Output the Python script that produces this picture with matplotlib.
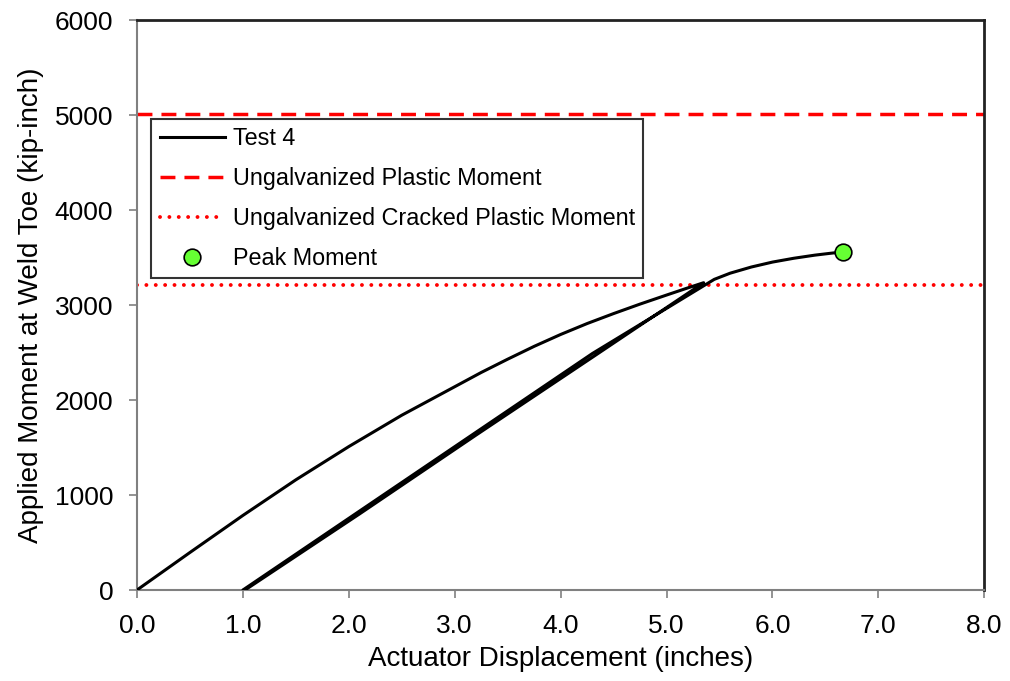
import matplotlib
matplotlib.use("Agg")
import matplotlib.pyplot as plt

plt.rcParams['font.family'] = ['Liberation Sans', 'DejaVu Sans']

# Test 4 load path: loading, unloading, reloading to peak
disp = [0.0, 0.5, 1.0, 1.5, 2.0, 2.5, 3.0, 3.25, 3.5, 3.75, 4.0, 4.25, 4.5, 4.75,
        5.0, 5.2, 5.35,
        4.3, 3.2, 2.1, 1.02,
        1.0, 2.1, 3.2, 4.3, 5.45, 5.6, 5.8, 6.0, 6.2, 6.4, 6.55, 6.67]
moment = [0, 395, 785, 1160, 1510, 1840, 2140, 2290, 2430, 2565, 2690, 2805, 2910, 3010,
          3105, 3180, 3235,
          2450, 1630, 800, 0,
          0, 830, 1660, 2490, 3270, 3335, 3400, 3452, 3492, 3525, 3545, 3560]

peak_x = [6.67]
peak_y = [3560]

plastic_moment = 5015
cracked_moment = 3210

fig = plt.figure(figsize=(10.1, 6.81), dpi=100)
ax = fig.add_axes([0.1356, 0.1336, 0.839, 0.837])

ax.plot(disp, moment, color='black', lw=2.2, label='Test 4', zorder=3,
        solid_joinstyle='round')
ax.axhline(plastic_moment, color='#ff0000', lw=2.5, linestyle=(0, (4.3, 2.6)),
           label='Ungalvanized Plastic Moment')
ax.axhline(cracked_moment, color='#ff0000', lw=2.8, linestyle=(0, (0.01, 2.4)),
           dash_capstyle='round', label='Ungalvanized Cracked Plastic Moment')
ax.plot(peak_x, peak_y, 'o', color='#66ff33', mec='black', mew=1.2, ms=12,
        label='Peak Moment', zorder=4, clip_on=False)

ax.set_xlim(0, 8)
ax.set_ylim(0, 6000)
ax.set_xticks([0, 1, 2, 3, 4, 5, 6, 7, 8])
ax.set_xticklabels(['0.0', '1.0', '2.0', '3.0', '4.0', '5.0', '6.0', '7.0', '8.0'])
ax.set_yticks([0, 1000, 2000, 3000, 4000, 5000, 6000])
ax.tick_params(direction='out', length=6, width=1.2, color='#808080',
               labelsize=19, pad=11)

for s in ['left', 'bottom']:
    ax.spines[s].set_color('#808080')
    ax.spines[s].set_linewidth(1.5)
for s in ['top', 'right']:
    ax.spines[s].set_color('#222222')
    ax.spines[s].set_linewidth(2)

ax.set_xlabel('Actuator Displacement (inches)', fontsize=20, labelpad=6)
ax.set_ylabel('Applied Moment at Weld Toe (kip-inch)', fontsize=20, labelpad=8)

leg = ax.legend(loc='upper left', bbox_to_anchor=(0.017, 0.826), fontsize=16.8,
                frameon=True, fancybox=False, edgecolor='black', handlelength=2.8,
                borderpad=0.35, labelspacing=0.72, handletextpad=0.35,
                borderaxespad=0)
leg.get_frame().set_linewidth(1.5)

fig.savefig('out.png', dpi=100)
